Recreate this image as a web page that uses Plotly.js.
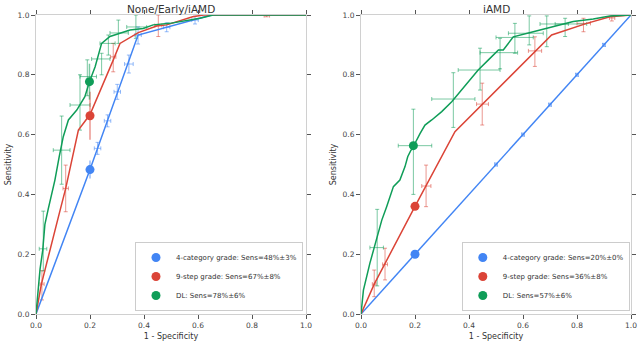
<!DOCTYPE html>
<html><head><meta charset="utf-8">
<script src="https://cdn.plot.ly/plotly-3.0.1.min.js"></script>
<style>html,body{margin:0;padding:0;background:#fff}#chart{width:640px;height:342px}</style>
</head><body><div id="chart"></div>
<script>
// ---------- labels ----------
const tickVals = [0, 0.2, 0.4, 0.6, 0.8, 1.0];
const panelTitles = ['None/Early/iAMD', 'iAMD'];
const xTitle = '1 - Specificity';
const yTitle = 'Sensitivity';
const legendLeft  = ['4-category grade: Sens=48%±3%', '9-step grade: Sens=67%±8%', 'DL: Sens=78%±6%'];
const legendRight = ['4-category grade: Sens=20%±0%', '9-step grade: Sens=36%±8%', 'DL: Sens=57%±6%'];

// ---------- left panel: None/Early/iAMD ----------
const L_blueX = [0, 0.2, 0.378, 0.484, 0.589, 0.65, 1];
const L_blueY = [0, 0.483, 0.933, 0.959, 0.983, 1.0, 1.0];
const L_redX  = [0, 0.02, 0.083, 0.11, 0.157, 0.2, 0.286, 0.311, 0.379, 0.447, 0.484, 0.58, 0.62, 1];
const L_redY  = [0, 0.1, 0.325, 0.42, 0.615, 0.667, 0.849, 0.905, 0.941, 0.963, 0.967, 0.994, 1.0, 1.0];
const L_greenX = [0, 0.005, 0.015, 0.025, 0.033, 0.045, 0.058, 0.07, 0.086, 0.101, 0.12, 0.151, 0.181, 0.198, 0.219, 0.243, 0.274, 0.305, 0.348, 0.397, 0.434, 0.496, 0.55, 0.607, 0.656, 1];
const L_greenY = [0, 0.06, 0.15, 0.214, 0.3, 0.35, 0.398, 0.448, 0.526, 0.593, 0.649, 0.682, 0.727, 0.777, 0.827, 0.905, 0.928, 0.938, 0.95, 0.955, 0.967, 0.972, 0.98, 0.989, 1.0, 1.0];
// operating points (big markers) and their sensitivity error
const L_opX = [0.2, 0.2, 0.198];
const L_opY = [0.483, 0.663, 0.777];
const L_opErr = [0.03, 0.08, 0.06];
// reader crosses: centre + bounds
const L_bcX = [0.228, 0.265, 0.301, 0.344, 0.378, 0.484, 0.589];
const L_bcY = [0.554, 0.646, 0.743, 0.836, 0.933, 0.959, 0.983];
const L_bcXlo = [0.216, 0.253, 0.289, 0.328, 0.366, 0.472, 0.577];
const L_bcXhi = [0.240, 0.277, 0.313, 0.360, 0.390, 0.496, 0.601];
const L_bcYlo = [0.534, 0.626, 0.718, 0.806, 0.903, 0.944, 0.97];
const L_bcYhi = [0.574, 0.666, 0.768, 0.866, 0.96, 0.974, 0.996];
const L_rcX = [0.022, 0.11, 0.286, 0.453, 0.854];
const L_rcY = [0.1, 0.42, 0.86, 0.965, 0.998];
const L_rcXlo = [0.015, 0.1, 0.276, 0.44, 0.845];
const L_rcXhi = [0.03, 0.12, 0.296, 0.466, 0.865];
const L_rcYlo = [0.047, 0.342, 0.81, 0.928, 0.994];
const L_rcYhi = [0.145, 0.498, 0.905, 1.0, 1.0];
const L_gcX = [0.027, 0.095, 0.163, 0.19, 0.243, 0.268, 0.305, 0.37];
const L_gcY = [0.218, 0.548, 0.699, 0.794, 0.853, 0.905, 0.94, 0.96];
const L_gcXlo = [0.012, 0.064, 0.126, 0.163, 0.206, 0.237, 0.274, 0.336];
const L_gcXhi = [0.04, 0.126, 0.2, 0.224, 0.274, 0.293, 0.342, 0.41];
const L_gcYlo = [0.144, 0.434, 0.615, 0.73, 0.8, 0.866, 0.905, 0.922];
const L_gcYhi = [0.344, 0.662, 0.8, 0.85, 0.872, 0.933, 0.983, 1.0];

// ---------- right panel: iAMD ----------
const R_blueX = [0, 0.2, 1];
const R_blueY = [0, 0.2, 1];
const R_redX = [0, 0.049, 0.2, 0.348, 0.706, 0.762, 0.836, 0.922, 1];
const R_redY = [0, 0.1, 0.36, 0.61, 0.933, 0.95, 0.972, 0.994, 1];
const R_greenX = [0, 0.009, 0.033, 0.058, 0.077, 0.095, 0.12, 0.144, 0.163, 0.173, 0.185, 0.194, 0.203, 0.219, 0.237, 0.262, 0.299, 0.336, 0.373, 0.404, 0.434, 0.471, 0.509, 0.527, 0.564, 0.638, 0.712, 0.786, 0.86, 0.922, 1];
const R_greenY = [0, 0.08, 0.17, 0.247, 0.314, 0.359, 0.426, 0.448, 0.493, 0.526, 0.548, 0.555, 0.576, 0.604, 0.632, 0.649, 0.677, 0.71, 0.749, 0.783, 0.816, 0.849, 0.883, 0.883, 0.927, 0.944, 0.961, 0.978, 0.987, 0.997, 1];
const R_opX = [0.2, 0.2, 0.194];
const R_opY = [0.2, 0.36, 0.563];
const R_opYlo = [0.2, 0.36, 0.4];
const R_opYhi = [0.2, 0.36, 0.685];
const R_opXlo = [0.2, 0.2, 0.138];
const R_opXhi = [0.2, 0.2, 0.262];
const R_bcX = [0.5, 0.6, 0.7, 0.8, 0.9];
const R_bcY = [0.5, 0.6, 0.7, 0.8, 0.9];
const R_rcX = [0.049, 0.089, 0.241, 0.449, 0.644, 0.824, 0.929];
const R_rcY = [0.1, 0.166, 0.428, 0.702, 0.88, 0.972, 0.99];
const R_rcXlo = [0.042, 0.08, 0.225, 0.428, 0.62, 0.8, 0.92];
const R_rcXhi = [0.056, 0.098, 0.259, 0.472, 0.669, 0.85, 0.94];
const R_rcYlo = [0.058, 0.114, 0.359, 0.632, 0.828, 0.944, 0.98];
const R_rcYhi = [0.147, 0.22, 0.498, 0.772, 0.927, 0.989, 1.0];
const R_gcX = [0.06, 0.342, 0.441, 0.515, 0.57, 0.623, 0.688, 0.756];
const R_gcY = [0.222, 0.719, 0.816, 0.874, 0.925, 0.939, 0.97, 0.97];
const R_gcXlo = [0.033, 0.262, 0.36, 0.441, 0.5, 0.546, 0.663, 0.719];
const R_gcXhi = [0.083, 0.422, 0.515, 0.58, 0.638, 0.675, 0.768, 0.836];
const R_gcYlo = [0.094, 0.624, 0.749, 0.82, 0.872, 0.9, 0.894, 0.928];
const R_gcYhi = [0.35, 0.807, 0.889, 0.922, 0.972, 0.997, 0.997, 0.989];

// ---------- styling ----------
const COL = ['#4285F4', '#DB4437', '#0F9D58'];
const ERR = ['rgba(66,133,244,0.55)', 'rgba(219,68,55,0.55)', 'rgba(15,157,88,0.55)'];
const FONT = 'DejaVu Sans, sans-serif';

function curve(x, y, c, xa, ya) {
  return {type: 'scatter', mode: 'lines', x, y, xaxis: xa, yaxis: ya, showlegend: false,
    hoverinfo: 'skip', line: {color: c, width: 1.5}, cliponaxis: false};
}
function cross(x, y, xlo, xhi, ylo, yhi, c, xa, ya) {
  return {type: 'scatter', mode: 'markers', x, y, xaxis: xa, yaxis: ya, showlegend: false,
    hoverinfo: 'skip', marker: {size: 1, opacity: 0, color: c}, cliponaxis: false,
    error_x: {type: 'data', symmetric: false, array: x.map((v, i) => xhi[i] - v),
      arrayminus: x.map((v, i) => v - xlo[i]), color: c, thickness: 1, width: 2},
    error_y: {type: 'data', symmetric: false, array: y.map((v, i) => yhi[i] - v),
      arrayminus: y.map((v, i) => v - ylo[i]), color: c, thickness: 1, width: 2}};
}
function opPoint(x, y, name, c, xa, ya, leg, ey) {
  const t = {type: 'scatter', mode: 'markers', x: [x], y: [y], xaxis: xa, yaxis: ya, name,
    legend: leg, marker: {size: 9, color: c}, cliponaxis: false};
  if (ey) t.error_y = ey;
  return t;
}

const data = [];
// left
data.push(cross(L_bcX, L_bcY, L_bcXlo, L_bcXhi, L_bcYlo, L_bcYhi, ERR[0], 'x', 'y'));
data.push(cross(L_rcX, L_rcY, L_rcXlo, L_rcXhi, L_rcYlo, L_rcYhi, ERR[1], 'x', 'y'));
data.push(cross(L_gcX, L_gcY, L_gcXlo, L_gcXhi, L_gcYlo, L_gcYhi, ERR[2], 'x', 'y'));
data.push(curve(L_blueX, L_blueY, COL[0], 'x', 'y'));
data.push(curve(L_redX, L_redY, COL[1], 'x', 'y'));
data.push(curve(L_greenX, L_greenY, COL[2], 'x', 'y'));
for (let i = 0; i < 3; i++) {
  data.push(opPoint(L_opX[i], L_opY[i], legendLeft[i], COL[i], 'x', 'y', 'legend',
    {type: 'data', array: [L_opErr[i]], color: ERR[i], thickness: 1.5, width: 0}));
}
// right
data.push(cross(R_bcX, R_bcY, R_bcX.map(v => v - 0.005), R_bcX.map(v => v + 0.005), R_bcY.map(v => v - 0.005), R_bcY.map(v => v + 0.005), ERR[0], 'x2', 'y2'));
data.push(cross(R_rcX, R_rcY, R_rcXlo, R_rcXhi, R_rcYlo, R_rcYhi, ERR[1], 'x2', 'y2'));
data.push(cross(R_gcX, R_gcY, R_gcXlo, R_gcXhi, R_gcYlo, R_gcYhi, ERR[2], 'x2', 'y2'));
data.push(cross([R_opX[2]], [R_opY[2]], [R_opXlo[2]], [R_opXhi[2]], [R_opYlo[2]], [R_opYhi[2]], ERR[2], 'x2', 'y2'));
data.push(curve(R_blueX, R_blueY, COL[0], 'x2', 'y2'));
data.push(curve(R_redX, R_redY, COL[1], 'x2', 'y2'));
data.push(curve(R_greenX, R_greenY, COL[2], 'x2', 'y2'));
for (let i = 0; i < 3; i++) {
  data.push(opPoint(R_opX[i], R_opY[i], legendRight[i], COL[i], 'x2', 'y2', 'legend2'));
}

const W = 640, H = 342;
const mL = 36, mR = 9, mT = 15, mB = 28;
const pw = W - mL - mR;
const axBase = {
  range: [0, 1], tickvals: tickVals, tickformat: '.1f', showgrid: false, zeroline: false,
  showline: true, linecolor: '#d0d0d0', linewidth: 1, mirror: 'ticks',
  ticks: 'outside', ticklen: 4, tickwidth: 1, tickcolor: '#555',
  tickfont: {family: FONT, size: 7.5, color: '#444'}, fixedrange: true, automargin: false
};
function xa(dom, anchor) {
  return Object.assign({}, axBase, {domain: dom, anchor,
    title: {text: xTitle, font: {family: FONT, size: 8, color: '#333'}, standoff: 4}});
}
function ya(anchor) {
  return Object.assign({}, axBase, {anchor,
    title: {text: yTitle, font: {family: FONT, size: 8, color: '#333'}, standoff: 4}});
}
const legBase = {bgcolor: '#fff', bordercolor: '#ccc', borderwidth: 1,
  font: {family: FONT, size: 7, color: '#333'}, xanchor: 'right', yanchor: 'bottom',
  itemclick: false, itemdoubleclick: false, tracegroupgap: 0};

const layout = {
  width: W, height: H, margin: {l: mL, r: mR, t: mT, b: mB},
  paper_bgcolor: '#fff', plot_bgcolor: '#fff', font: {family: FONT},
  showlegend: true,
  xaxis: xa([0, 270 / pw], 'y'),
  yaxis: ya('x'),
  xaxis2: xa([325 / pw, 1], 'y2'),
  yaxis2: ya('x2'),
  legend: Object.assign({}, legBase, {x: 267 / pw, y: 0.01}),
  legend2: Object.assign({}, legBase, {x: 0.998, y: 0.01}),
  annotations: [
    {text: panelTitles[0], xref: 'x domain', yref: 'paper', x: 0.5, y: 1, yanchor: 'bottom', yshift: -2,
      showarrow: false, font: {family: FONT, size: 10.5, color: '#333'}},
    {text: panelTitles[1], xref: 'x2 domain', yref: 'paper', x: 0.5, y: 1, yanchor: 'bottom', yshift: -2,
      showarrow: false, font: {family: FONT, size: 10.5, color: '#333'}}
  ]
};
Plotly.newPlot('chart', data, layout, {displayModeBar: false, staticPlot: true});
</script></body></html>
